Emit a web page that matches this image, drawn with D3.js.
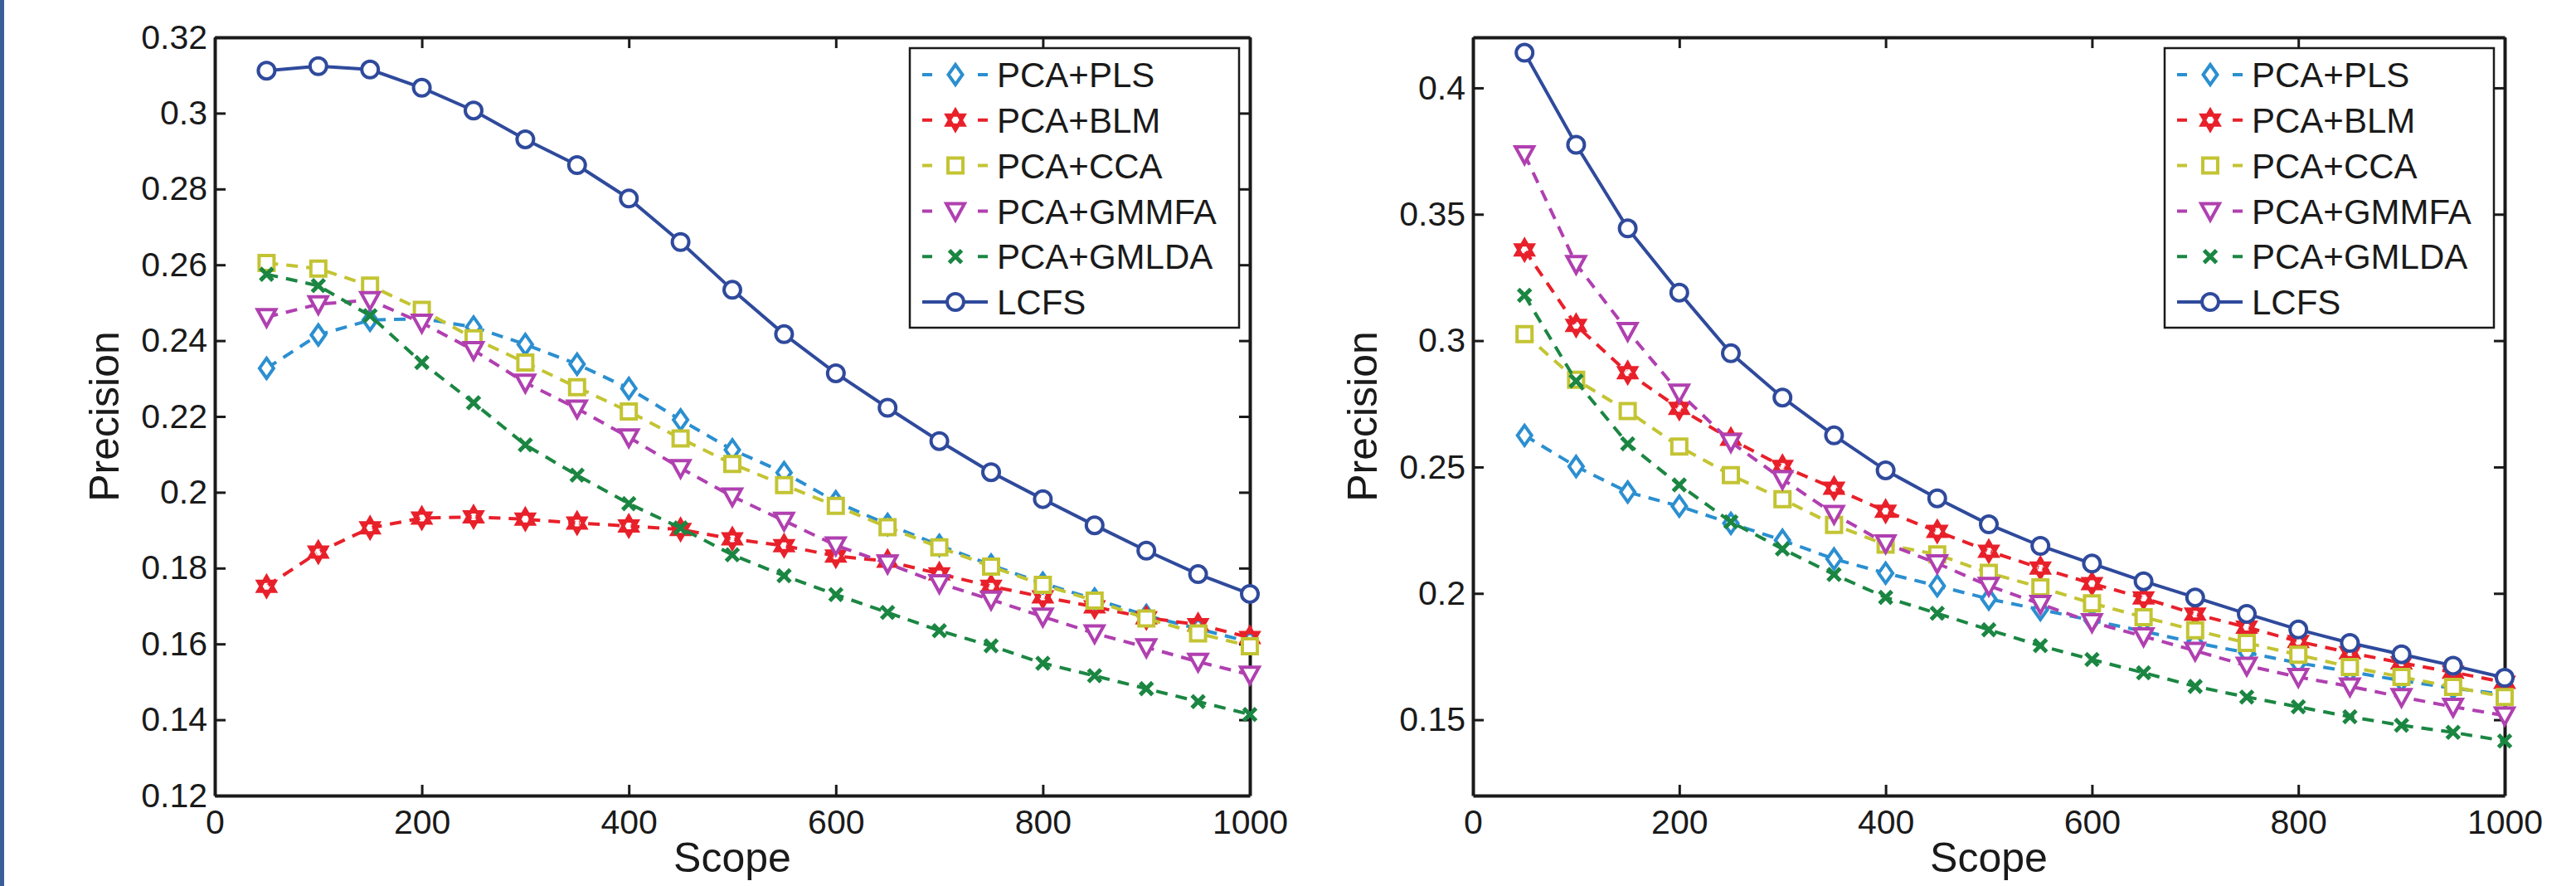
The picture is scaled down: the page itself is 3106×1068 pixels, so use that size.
<!DOCTYPE html>
<html>
<head>
<meta charset="utf-8">
<script src="https://cdn.jsdelivr.net/npm/d3@7"></script>
<style>
  body { margin: 0; background: #fff; }
  svg { display: block; }
  text { font-family: "Liberation Sans", Arial, sans-serif; fill: #1a1a1a; }
</style>
</head>
<body>
<div id="my_dataviz"></div>
<script>
// data
var scope = [50, 100, 150, 200, 250, 300, 350, 400, 450, 500, 550, 600, 650, 700, 750, 800, 850, 900, 950, 1000];
var seriesNames = ["PCA+PLS", "PCA+BLM", "PCA+CCA", "PCA+GMMFA", "PCA+GMLDA", "LCFS"];
var xTicks = [0, 200, 400, 600, 800, 1000];

// left panel
var leftPLS   = [0.2327, 0.2415, 0.2454, 0.2458, 0.2436, 0.2390, 0.2338, 0.2274, 0.2191, 0.2112, 0.2052, 0.1975, 0.1915, 0.1860, 0.1808, 0.1760, 0.1718, 0.1675, 0.1640, 0.1605];
var leftBLM   = [0.1752, 0.1842, 0.1906, 0.1932, 0.1935, 0.1929, 0.1919, 0.1911, 0.1902, 0.1877, 0.1859, 0.1832, 0.1818, 0.1785, 0.1752, 0.1724, 0.1698, 0.1669, 0.1651, 0.1617];
var leftCCA   = [0.2605, 0.2590, 0.2545, 0.2481, 0.2406, 0.2342, 0.2277, 0.2213, 0.2142, 0.2075, 0.2019, 0.1964, 0.1908, 0.1855, 0.1804, 0.1756, 0.1714, 0.1667, 0.1628, 0.1594];
var leftGMMFA = [0.2462, 0.2496, 0.2507, 0.2447, 0.2375, 0.2289, 0.2221, 0.2145, 0.2064, 0.1989, 0.1925, 0.1860, 0.1812, 0.1760, 0.1717, 0.1672, 0.1628, 0.1591, 0.1553, 0.1519];
var leftGMLDA = [0.2575, 0.2545, 0.2466, 0.2342, 0.2236, 0.2125, 0.2045, 0.1970, 0.1906, 0.1835, 0.1780, 0.1730, 0.1683, 0.1635, 0.1595, 0.1549, 0.1516, 0.1482, 0.1448, 0.1414];
var leftLCFS  = [0.3112, 0.3124, 0.3115, 0.3067, 0.3007, 0.2931, 0.2863, 0.2775, 0.2660, 0.2534, 0.2417, 0.2314, 0.2223, 0.2135, 0.2053, 0.1982, 0.1913, 0.1846, 0.1784, 0.1732];
var leftYDomain = [0.12, 0.32];
var leftYTicks = [0.12, 0.14, 0.16, 0.18, 0.2, 0.22, 0.24, 0.26, 0.28, 0.3, 0.32];

// right panel
var rightPLS   = [0.2625, 0.2502, 0.2401, 0.2345, 0.2277, 0.2210, 0.2136, 0.2080, 0.2030, 0.1978, 0.1936, 0.1893, 0.1850, 0.1805, 0.1765, 0.1725, 0.1690, 0.1655, 0.1625, 0.1600];
var rightBLM   = [0.3359, 0.3060, 0.2873, 0.2732, 0.2610, 0.2502, 0.2416, 0.2325, 0.2245, 0.2167, 0.2100, 0.2039, 0.1982, 0.1918, 0.1866, 0.1810, 0.1765, 0.1725, 0.1688, 0.1648];
var rightCCA   = [0.3026, 0.2845, 0.2721, 0.2581, 0.2468, 0.2373, 0.2271, 0.2193, 0.2154, 0.2081, 0.2024, 0.1961, 0.1906, 0.1854, 0.1804, 0.1757, 0.1709, 0.1669, 0.1630, 0.1590];
var rightGMMFA = [0.3737, 0.3303, 0.3038, 0.2794, 0.2599, 0.2452, 0.2314, 0.2198, 0.2119, 0.2030, 0.1958, 0.1886, 0.1830, 0.1773, 0.1714, 0.1669, 0.1632, 0.1590, 0.1551, 0.1517];
var rightGMLDA = [0.3179, 0.2840, 0.2592, 0.2429, 0.2283, 0.2176, 0.2075, 0.1984, 0.1921, 0.1856, 0.1793, 0.1738, 0.1686, 0.1632, 0.1590, 0.1551, 0.1512, 0.1478, 0.1450, 0.1416];
var rightLCFS  = [0.4139, 0.3775, 0.3444, 0.3190, 0.2950, 0.2775, 0.2625, 0.2487, 0.2376, 0.2273, 0.2188, 0.2118, 0.2048, 0.1984, 0.1919, 0.1857, 0.1804, 0.1759, 0.1714, 0.1666];
var rightYDomain = [0.12, 0.42];
var rightYTicks = [0.15, 0.2, 0.25, 0.3, 0.35, 0.4];

// styles per series
var colors  = ["#2b8fd0", "#e8202a", "#c3c433", "#b040b0", "#1b8642", "#2f4a9c"];
var markers = ["diamond", "hexagram", "square", "triangle", "cross", "circle"];
var dashed  = [true, true, true, true, true, false];

var W = 3106, H = 1068;
var svg = d3.select("#my_dataviz")
    .append("svg")
    .attr("width", W)
    .attr("height", H);

svg.append("rect").attr("width", W).attr("height", H).attr("fill", "#fff");
// blue strip at the left border of the scan
svg.append("rect").attr("x", 0).attr("y", 0).attr("width", 5).attr("height", H).attr("fill", "#3b5e98");

function markerPath(type) {
    if (type === "diamond") return "M0,-12L8.5,0L0,12L-8.5,0Z";
    if (type === "square") return "M-9,-9H9V9H-9Z";
    if (type === "triangle") return "M-11,-9L11,-9L0,11Z";
    if (type === "cross") return "M-7.5,-7.5L7.5,7.5M-7.5,7.5L7.5,-7.5";
    if (type === "hexagram") return "M0,-12L10.4,6L-10.4,6Z M0,12L10.4,-6L-10.4,-6Z";
    return d3.symbol().type(d3.symbolCircle).size(Math.PI * 10 * 10)();
}

function drawMarker(g, type, color) {
    var fill = "#fff";
    if (type === "cross") fill = "none";
    if (type === "hexagram") fill = color;
    g.append("path")
        .attr("d", markerPath(type))
        .attr("fill", fill)
        .attr("stroke", color)
        .attr("stroke-width", type === "cross" ? 5 : 4)
        .attr("stroke-linejoin", "miter");
    if (type === "hexagram") {
        g.append("circle").attr("r", 2.5).attr("fill", "#fff");
    }
}

function drawPanel(left, right, yDomain, yTicks, data) {
    var top = 45, bottom = 959;
    var x = d3.scaleLinear().domain([0, 1000]).range([left, right]);
    var y = d3.scaleLinear().domain(yDomain).range([bottom, top]);

    // axes with inward ticks, mirrored on top and right
    var axB = svg.append("g").attr("transform", "translate(0," + bottom + ")")
        .call(d3.axisBottom(x).tickValues(xTicks).tickSize(-13).tickSizeOuter(0).tickPadding(17).tickFormat(d3.format("d")));
    var axL = svg.append("g").attr("transform", "translate(" + left + ",0)")
        .call(d3.axisLeft(y).tickValues(yTicks).tickSize(-13).tickSizeOuter(0).tickPadding(9).tickFormat(d3.format("~g")));
    var axT = svg.append("g").attr("transform", "translate(0," + top + ")")
        .call(d3.axisTop(x).tickValues(xTicks).tickSize(-13).tickSizeOuter(0).tickFormat(""));
    var axR = svg.append("g").attr("transform", "translate(" + right + ",0)")
        .call(d3.axisRight(y).tickValues(yTicks).tickSize(-13).tickSizeOuter(0).tickFormat(""));

    [axB, axL, axT, axR].forEach(function (a) {
        a.select(".domain").attr("stroke", "#1a1a1a").attr("stroke-width", 4);
        a.selectAll(".tick line").attr("stroke", "#1a1a1a").attr("stroke-width", 3);
        a.selectAll(".tick text").attr("font-size", "41px").attr("fill", "#1a1a1a")
            .attr("font-family", "'Liberation Sans', Arial, sans-serif");
    });

    // axis labels
    svg.append("text")
        .attr("x", (left + right) / 2)
        .attr("y", 1051)
        .attr("text-anchor", "middle")
        .attr("font-size", "50px")
        .text("Scope");
    svg.append("text")
        .attr("transform", "translate(" + (left - 116) + "," + ((top + bottom) / 2) + ") rotate(-90)")
        .attr("text-anchor", "middle")
        .attr("font-size", "50px")
        .text("Precision");

    var line = d3.line()
        .x(function (d, i) { return x(scope[i]); })
        .y(function (d) { return y(d); });

    data.forEach(function (vals, s) {
        svg.append("path")
            .datum(vals)
            .attr("d", line)
            .attr("fill", "none")
            .attr("stroke", colors[s])
            .attr("stroke-width", 4)
            .attr("stroke-dasharray", dashed[s] ? "14,10" : null);
        svg.selectAll(".m" + left + "_" + s)
            .data(vals)
            .enter()
            .append("g")
            .attr("class", "m" + left + "_" + s)
            .attr("transform", function (d, i) { return "translate(" + x(scope[i]) + "," + y(d) + ")"; })
            .each(function () { drawMarker(d3.select(this), markers[s], colors[s]); });
    });

    // legend, top right inside the axes
    var lw = 397, lh = 337;
    var lx = right - 13 - lw, ly = top + 13;
    var leg = svg.append("g").attr("transform", "translate(" + lx + "," + ly + ")");
    leg.append("rect")
        .attr("width", lw).attr("height", lh)
        .attr("fill", "#fff").attr("stroke", "#1a1a1a").attr("stroke-width", 2.5);
    seriesNames.forEach(function (name, s) {
        var ry = 32 + s * 54.8;
        leg.append("line")
            .attr("x1", 15).attr("x2", 94).attr("y1", ry).attr("y2", ry)
            .attr("stroke", colors[s]).attr("stroke-width", 4)
            .attr("stroke-dasharray", dashed[s] ? "12,55,12" : null);
        var mg = leg.append("g").attr("transform", "translate(55," + ry + ")");
        drawMarker(mg, markers[s], colors[s]);
        leg.append("text")
            .attr("x", 105).attr("y", ry)
            .attr("dy", "0.36em")
            .attr("font-size", "42px")
            .text(name);
    });
}

drawPanel(259, 1507, leftYDomain, leftYTicks,
    [leftPLS, leftBLM, leftCCA, leftGMMFA, leftGMLDA, leftLCFS]);
drawPanel(1776, 3020, rightYDomain, rightYTicks,
    [rightPLS, rightBLM, rightCCA, rightGMMFA, rightGMLDA, rightLCFS]);
</script>
</body>
</html>
